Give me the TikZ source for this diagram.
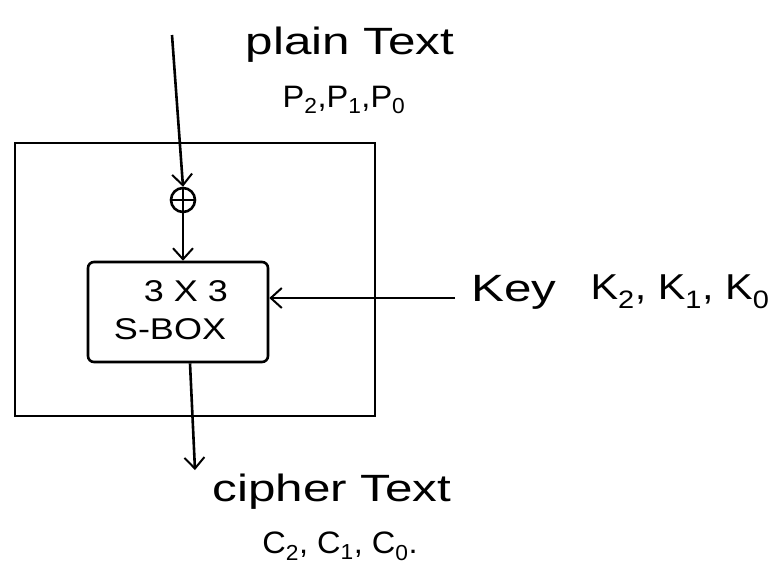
\documentclass[tikz,border=0pt]{standalone}
\usepackage{fontspec}
\setmainfont{Liberation Sans}
\usetikzlibrary{arrows.meta}
\begin{document}
\begin{tikzpicture}[x=1pt,y=-1pt,
  ink/.style={line width=2.6pt,black},
  arr/.style={ink,-{Straight Barb[length=11pt,width=20pt,line width=2pt]}},
  lbl/.style={font=\fontsize{38}{42}\selectfont,inner sep=0pt,xscale=1.3,transform shape},
  klbl/.style={font=\fontsize{36}{40}\selectfont,inner sep=0pt,xscale=1.15,transform shape},
  sublbl/.style={font=\fontsize{31}{34}\selectfont,inner sep=0pt,xscale=1.05,transform shape},
  boxlbl/.style={font=\fontsize{30}{34}\selectfont,inner sep=0pt,xscale=1.2,transform shape}]
\useasboundingbox[fill=white] (0,0) rectangle (781,573);
% outer frame
\draw[ink] (15,143) rectangle (375,416);
% nodes
\coordinate (top) at (172,35);
\node[ink,draw,circle,minimum size=24pt,inner sep=0pt] (xor) at (183,200) {};
\draw[line width=1.8pt] (xor.north) -- (xor.south) (xor.west) -- (xor.east);
\node[ink,draw,rounded corners=6pt,minimum width=180pt,minimum height=100pt,inner sep=0pt] (sbox) at (178,312) {};
\node[boxlbl] (t33) at (186,291) {3 X 3};
\node[boxlbl] (tsb) at (170,329) {S-BOX};
\coordinate (keyin) at (455,298);
\coordinate (out) at (195,470);
% connectors
\draw[arr] (top) -- (xor.north);
\draw[arr] (xor.south) -- (sbox.north -| xor.south);
\draw[arr] (keyin) -- (sbox.east |- keyin);
\draw[arr] (sbox.south -| 190,0) -- (out);
% labels
\node[lbl] (pt) at (350,45) {plain Text};
\node[sublbl] (pp) at (344,100) {P\textsubscript{2},P\textsubscript{1},P\textsubscript{0}};
\node[lbl] (key) at (514,292) {Key};
\node[klbl] (kk) at (680,292) {K\textsubscript{2}, K\textsubscript{1}, K\textsubscript{0}};
\node[lbl] (ct) at (332,492) {cipher Text};
\node[sublbl] (cc) at (340,546) {C\textsubscript{2}, C\textsubscript{1}, C\textsubscript{0}.};
\end{tikzpicture}
\end{document}
